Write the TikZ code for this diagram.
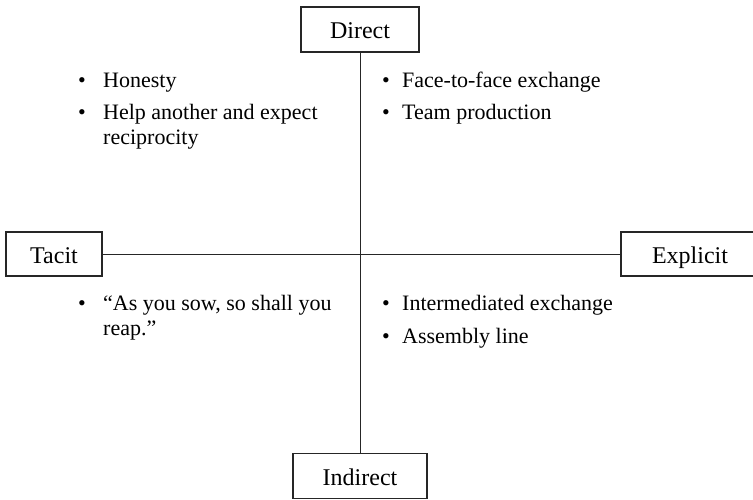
\documentclass[tikz,border=0pt]{standalone}
\usepackage{fontspec}
\setmainfont{Liberation Serif}
\usepackage{array}
\begin{document}
\begin{tikzpicture}[x=1pt,y=-1pt,
  axisbox/.style={draw=black!85, line width=1.1pt, fill=white, inner sep=0pt,
    text height=18pt, text depth=0pt,
    font=\fontsize{24}{28}\selectfont},
  axisline/.style={draw=black!85, line width=1pt},
  bulletlist/.style={anchor=base west, inner sep=0pt, align=left,
    font=\fontsize{22}{25}\selectfont}]
  \useasboundingbox (0,0) rectangle (753,499);
  \clip (0,0) rectangle (753,499);

  % the four poles
  \node[axisbox, minimum width=118pt, minimum height=45pt] (direct)   at (360,29.5) {Direct};
  \node[axisbox, minimum width=134pt, minimum height=45pt] (indirect) at (360,476)  {Indirect};
  \node[axisbox, minimum width=96pt,  minimum height=44pt] (tacit)    at (54,254)   {Tacit};
  \node[axisbox, minimum width=138pt, minimum height=44pt] (explicit) at (690,254)  {Explicit};

  % the two axes
  \draw[axisline] (direct) -- (indirect);
  \draw[axisline] (tacit) -- (explicit);

  % quadrant examples
  \node[bulletlist] (tacitdirect) at (78,87) {%
    \begin{tabular}[t]{@{}p{25pt}@{}l@{}}
      • & Honesty\\[7pt]
      • & Help another and expect\\
        & reciprocity
    \end{tabular}};
  \node[bulletlist] (explicitdirect) at (382,87) {%
    \begin{tabular}[t]{@{}p{20pt}@{}l@{}}
      • & Face-to-face exchange\\[7pt]
      • & Team production
    \end{tabular}};
  \node[bulletlist] (tacitindirect) at (78,310) {%
    \begin{tabular}[t]{@{}p{25pt}@{}l@{}}
      • & “As you sow, so shall you\\
        & reap.”
    \end{tabular}};
  \node[bulletlist] (explicitindirect) at (382,310) {%
    \begin{tabular}[t]{@{}p{20pt}@{}l@{}}
      • & Intermediated exchange\\[8pt]
      • & Assembly line
    \end{tabular}};
\end{tikzpicture}
\end{document}
